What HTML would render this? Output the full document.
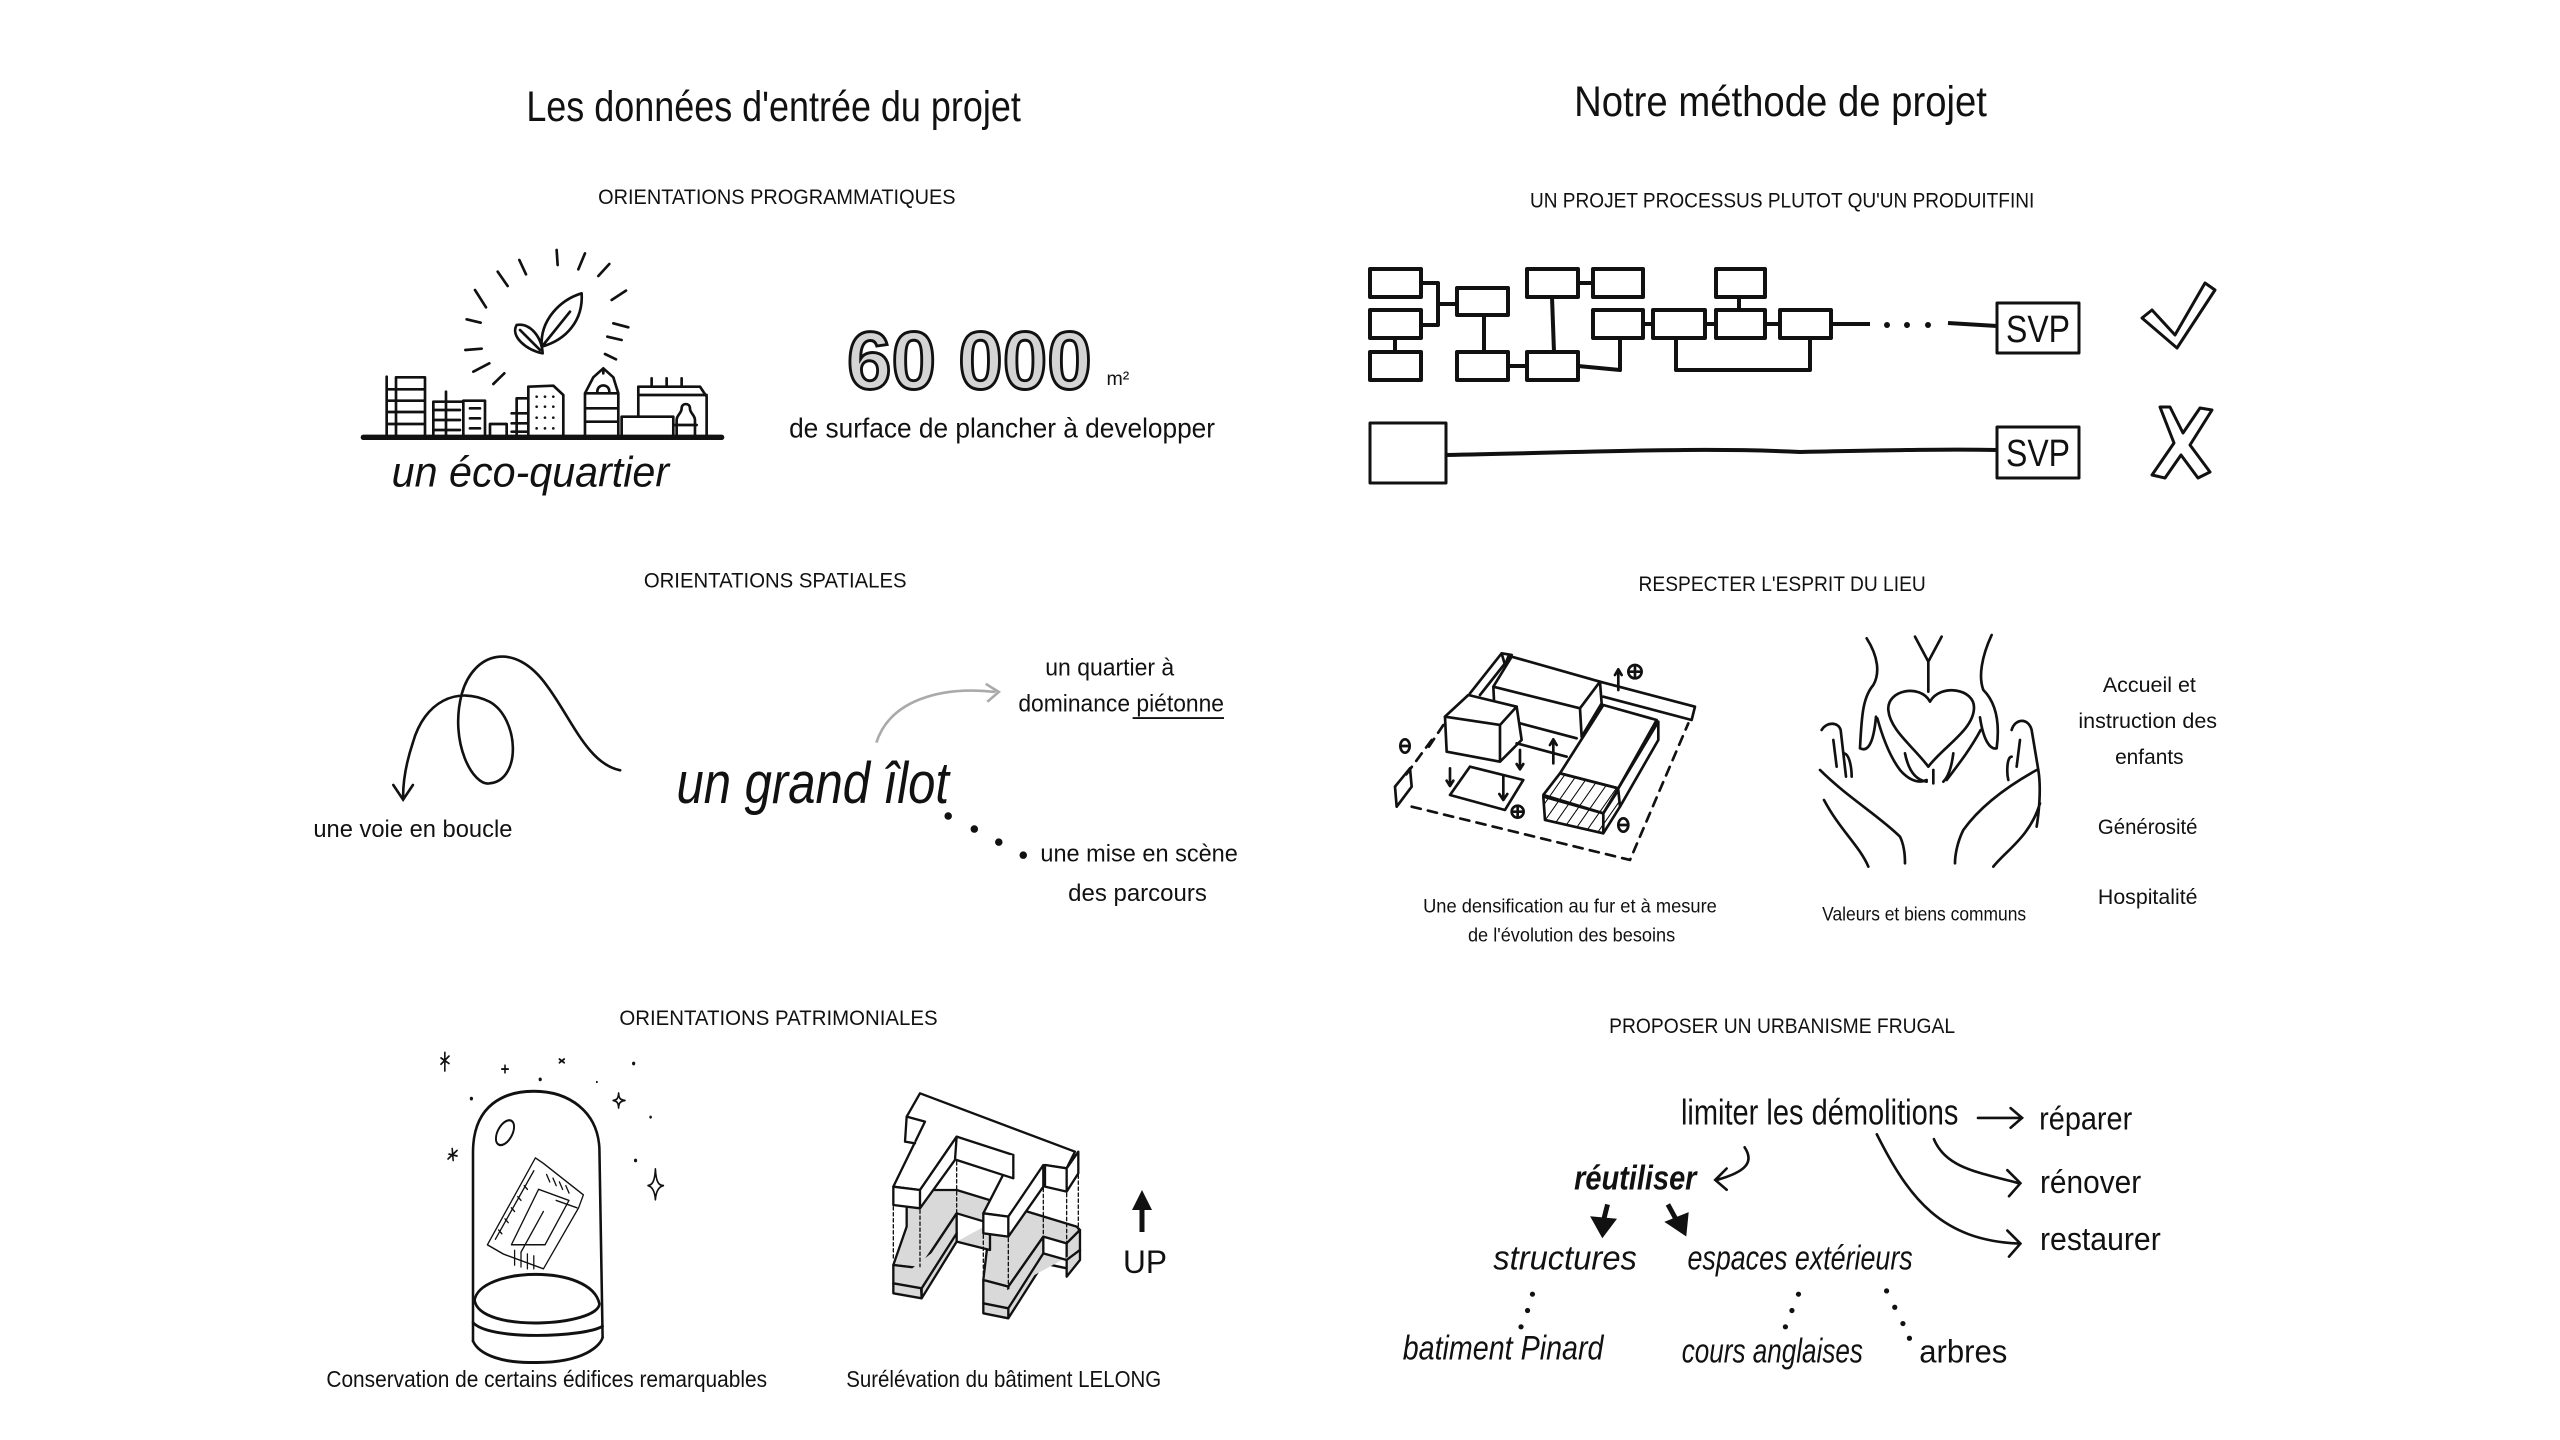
<!DOCTYPE html>
<html><head><meta charset="utf-8"><style>
html,body{margin:0;padding:0;background:#fff;}
svg{display:block}
text{font-family:"Liberation Sans Narrow","Liberation Sans",sans-serif;fill:#111;}
</style></head><body>
<svg width="2560" height="1440" viewBox="0 0 2560 1440" xmlns="http://www.w3.org/2000/svg">
<defs>
<pattern id="hatch" width="30" height="30" patternUnits="userSpaceOnUse" patternTransform="rotate(35)">
<line x1="0" y1="0" x2="0" y2="30" stroke="#000" stroke-width="6"/></pattern>
</defs>
<rect width="2560" height="1440" fill="#fff"/>

<g transform="scale(1.632)">
<text x="474" y="74" font-size="26" text-anchor="middle" textLength="303" lengthAdjust="spacingAndGlyphs">Les données d'entrée du projet</text>
<text x="476" y="125" font-size="13" text-anchor="middle" textLength="219" lengthAdjust="spacingAndGlyphs">ORIENTATIONS PROGRAMMATIQUES</text>
<text x="325" y="298" font-size="26" font-style="italic" text-anchor="middle" textLength="170" lengthAdjust="spacingAndGlyphs">un éco-quartier</text>
<text x="594" y="238" font-size="50" font-weight="bold" text-anchor="middle" textLength="150" lengthAdjust="spacingAndGlyphs" style="fill:#d4d4d4;stroke:#111;stroke-width:1.8">60 000</text>
<text x="678" y="236" font-size="12">m²</text>
<text x="614" y="268" font-size="17" text-anchor="middle" textLength="261" lengthAdjust="spacingAndGlyphs">de surface de plancher à developper</text>

<text x="475" y="360" font-size="13" text-anchor="middle" textLength="161" lengthAdjust="spacingAndGlyphs">ORIENTATIONS SPATIALES</text>
<text x="253" y="513" font-size="15" text-anchor="middle" textLength="122" lengthAdjust="spacingAndGlyphs">une voie en boucle</text>
<text x="498" y="492" font-size="36" font-style="italic" text-anchor="middle" textLength="167" lengthAdjust="spacingAndGlyphs">un grand îlot</text>
<text x="680" y="414" font-size="15" text-anchor="middle" textLength="79" lengthAdjust="spacingAndGlyphs">un quartier à</text>
<text x="687" y="436" font-size="15" text-anchor="middle" textLength="126" lengthAdjust="spacingAndGlyphs">dominance piétonne</text>
<line x1="694" y1="440" x2="750" y2="440" stroke="#111" stroke-width="1.2"/>
<text x="698" y="528" font-size="15" text-anchor="middle" textLength="121" lengthAdjust="spacingAndGlyphs">une mise en scène</text>
<text x="697" y="552" font-size="15" text-anchor="middle" textLength="85" lengthAdjust="spacingAndGlyphs">des parcours</text>

<text x="477" y="628" font-size="13" text-anchor="middle" textLength="195" lengthAdjust="spacingAndGlyphs">ORIENTATIONS PATRIMONIALES</text>
<text x="335" y="850" font-size="14" text-anchor="middle" textLength="270" lengthAdjust="spacingAndGlyphs">Conservation de certains édifices remarquables</text>
<text x="615" y="850" font-size="14" text-anchor="middle" textLength="193" lengthAdjust="spacingAndGlyphs">Surélévation du bâtiment LELONG</text>

<text x="1091" y="71" font-size="26" text-anchor="middle" textLength="253" lengthAdjust="spacingAndGlyphs">Notre méthode de projet</text>
<text x="1092" y="127" font-size="13" text-anchor="middle" textLength="309" lengthAdjust="spacingAndGlyphs">UN PROJET PROCESSUS PLUTOT QU'UN PRODUITFINI</text>

<text x="1092" y="362" font-size="13" text-anchor="middle" textLength="176" lengthAdjust="spacingAndGlyphs">RESPECTER L'ESPRIT DU LIEU</text>
<text x="962" y="559" font-size="12" text-anchor="middle" textLength="180" lengthAdjust="spacingAndGlyphs">Une densification au fur et à mesure</text>
<text x="963" y="577" font-size="12" text-anchor="middle" textLength="127" lengthAdjust="spacingAndGlyphs">de l'évolution des besoins</text>
<text x="1179" y="564" font-size="12" text-anchor="middle" textLength="125" lengthAdjust="spacingAndGlyphs">Valeurs et biens communs</text>
<text x="1317" y="424" font-size="13" text-anchor="middle" textLength="57" lengthAdjust="spacingAndGlyphs">Accueil et</text>
<text x="1316" y="446" font-size="13" text-anchor="middle" textLength="85" lengthAdjust="spacingAndGlyphs">instruction des</text>
<text x="1317" y="468" font-size="13" text-anchor="middle" textLength="42" lengthAdjust="spacingAndGlyphs">enfants</text>
<text x="1316" y="511" font-size="13" text-anchor="middle" textLength="61" lengthAdjust="spacingAndGlyphs">Générosité</text>
<text x="1316" y="554" font-size="13" text-anchor="middle" textLength="61" lengthAdjust="spacingAndGlyphs">Hospitalité</text>

<text x="1092" y="633" font-size="13" text-anchor="middle" textLength="212" lengthAdjust="spacingAndGlyphs">PROPOSER UN URBANISME FRUGAL</text>
<text x="1115" y="689" font-size="22" text-anchor="middle" textLength="170" lengthAdjust="spacingAndGlyphs">limiter les démolitions</text>
<text x="1278" y="692" font-size="20" text-anchor="middle" textLength="57" lengthAdjust="spacingAndGlyphs">réparer</text>
<text x="1281" y="731" font-size="20" text-anchor="middle" textLength="62" lengthAdjust="spacingAndGlyphs">rénover</text>
<text x="1287" y="766" font-size="20" text-anchor="middle" textLength="74" lengthAdjust="spacingAndGlyphs">restaurer</text>
<text x="1002" y="729" font-size="21" font-weight="bold" font-style="italic" text-anchor="middle" textLength="75" lengthAdjust="spacingAndGlyphs">réutiliser</text>
<text x="959" y="778" font-size="21" font-style="italic" text-anchor="middle" textLength="88" lengthAdjust="spacingAndGlyphs">structures</text>
<text x="1103" y="778" font-size="21" font-style="italic" text-anchor="middle" textLength="138" lengthAdjust="spacingAndGlyphs">espaces extérieurs</text>
<text x="921" y="833" font-size="21" font-style="italic" text-anchor="middle" textLength="123" lengthAdjust="spacingAndGlyphs">batiment Pinard</text>
<text x="1086" y="835" font-size="21" font-style="italic" text-anchor="middle" textLength="111" lengthAdjust="spacingAndGlyphs">cours anglaises</text>
<text x="1203" y="835" font-size="20" text-anchor="middle" textLength="54" lengthAdjust="spacingAndGlyphs">arbres</text>

<g fill="none" stroke="#111" stroke-width="1.6" stroke-linecap="round">
<path d="M380,472 C360,468 350,440 335,420 C315,392 290,400 283,425 C275,455 290,482 300,480 C320,478 318,440 300,430 C280,420 260,430 253,455 C248,470 247,480 247,488"/>
<path d="M241,481 L247,490 L253,481"/>
</g>
<path d="M537,455 C545,430 575,420 610,424" fill="none" stroke="#aaa" stroke-width="1.6"/>
<path d="M604,419 L612,424 L605,430" fill="none" stroke="#aaa" stroke-width="1.6"/>
<g fill="#111"><circle cx="581" cy="500" r="2.3"/><circle cx="597" cy="508" r="2.3"/><circle cx="612" cy="516" r="2.3"/><circle cx="627" cy="524" r="2.3"/></g>

<g fill="none" stroke="#111" stroke-width="1.6" stroke-linecap="round">
<path d="M1212,685 H1238 M1232,679 L1239,685 L1232,691"/>
<path d="M1185,698 C1192,715 1210,718 1237,725 M1230,717 L1238,725 L1231,733"/>
<path d="M1150,695 C1170,735 1190,760 1237,762 M1230,754 L1238,762 L1231,770"/>
<path d="M1069,703 C1075,712 1070,718 1052,723 M1058,716 L1051,723 L1058,729"/>
</g>
<g stroke="#111" stroke-width="3" fill="#111">
<path d="M985,738 L982,750"/><path d="M977,747 L982,756 L988,748 Z"/>
<path d="M1022,738 L1028,749"/><path d="M1023,749 L1032,755 L1033,745 Z"/>
</g>
<g fill="#111">
<circle cx="939" cy="793" r="1.6"/><circle cx="936" cy="803" r="1.6"/><circle cx="932" cy="813" r="1.6"/>
<circle cx="1102" cy="793" r="1.6"/><circle cx="1098" cy="803" r="1.6"/><circle cx="1094" cy="813" r="1.6"/>
<circle cx="1156" cy="791" r="1.6"/><circle cx="1161" cy="801" r="1.6"/><circle cx="1166" cy="811" r="1.6"/><circle cx="1170" cy="820" r="1.6"/>
</g>
</g>

<text x="1145" y="1273" font-size="32" text-anchor="middle" textLength="44" lengthAdjust="spacingAndGlyphs">UP</text>
<path d="M1142,1232 V1205" stroke="#111" stroke-width="5"/>
<path d="M1132,1210 L1142,1190 L1152,1210 Z" fill="#111"/>

<g fill="#fff" stroke="#111" stroke-width="4" stroke-linejoin="round">
<path fill="none" d="M1421,283 H1438 V325 H1421 M1438,304 H1457 M1395,338 V352 M1484,315 V352 M1508,366 H1527 M1552,297 L1554,352 M1578,283 H1593 M1578,366 L1620,370 V338 M1643,324 H1653 M1705,324 H1716 M1765,324 H1780 M1739,297 V310 M1676,338 V370 H1810 V338 M1831,324 H1870 M1948,323 L1997,326 M1446,455 C1600,452 1700,447 1800,452 C1900,450 1950,449 1997,450"/>
<rect x="1370" y="269" width="51" height="28"/><rect x="1370" y="310" width="51" height="28"/><rect x="1370" y="352" width="51" height="28"/>
<rect x="1457" y="288" width="51" height="27"/><rect x="1457" y="352" width="51" height="28"/>
<rect x="1527" y="269" width="51" height="28"/><rect x="1527" y="352" width="51" height="28"/>
<rect x="1593" y="269" width="50" height="28"/><rect x="1593" y="310" width="50" height="28"/>
<rect x="1653" y="310" width="52" height="28"/>
<rect x="1716" y="269" width="49" height="28"/><rect x="1716" y="310" width="49" height="28"/>
<rect x="1780" y="310" width="51" height="28"/>
<rect x="1370" y="423" width="76" height="60" stroke-width="3"/>
<rect x="1997" y="303" width="82" height="50" stroke-width="3"/>
<rect x="1997" y="427" width="82" height="51" stroke-width="3"/>
</g>
<g fill="#111"><circle cx="1887" cy="325" r="3"/><circle cx="1907" cy="325" r="3"/><circle cx="1928" cy="325" r="3"/></g>
<text x="2038" y="342" font-size="38" text-anchor="middle" textLength="64" lengthAdjust="spacingAndGlyphs">SVP</text>
<text x="2038" y="466" font-size="38" text-anchor="middle" textLength="64" lengthAdjust="spacingAndGlyphs">SVP</text>
<g fill="#fff" stroke="#111" stroke-width="3" stroke-linejoin="round">
<path d="M2142,318 L2152,310 L2175,335 L2205,283 L2215,290 L2177,348 Z"/>
<path d="M2160,407 L2170,407 L2183,433 L2200,408 L2212,410 L2190,445 L2210,472 L2198,478 L2181,455 L2165,478 L2152,475 L2174,443 Z"/>
</g>

<g transform="translate(360,240) scale(0.3333)" fill="none" stroke="#111" stroke-width="8" stroke-linejoin="round" stroke-linecap="round">
<path d="M10,592 H1085" stroke-width="16"/>
<path d="M80,590 V410 M108,590 V412 H195 V590 M108,448 H195 M108,482 H195 M108,516 H195 M108,552 H195 M80,448 H108 M80,482 H108 M80,516 H108 M80,552 H108"/>
<path d="M258,590 V455 M220,590 V485 H310 V590 M310,482 H375 V590 M225,510 H300 M225,540 H300 M225,570 H300 M330,505 H360 M330,535 H360 M330,565 H360"/>
<path d="M390,590 V552 H440 V590"/>
<path d="M470,590 V475 H505 V440 L580,437 L610,465 V590 M455,520 H505 M455,550 H505 M455,575 H505 M505,475 V590"/>
<g fill="#111" stroke="none"><circle cx="530" cy="470" r="4"/><circle cx="555" cy="470" r="4"/><circle cx="580" cy="470" r="4"/><circle cx="530" cy="500" r="4"/><circle cx="555" cy="500" r="4"/><circle cx="580" cy="500" r="4"/><circle cx="530" cy="533" r="4"/><circle cx="555" cy="533" r="4"/><circle cx="580" cy="533" r="4"/><circle cx="530" cy="565" r="4"/><circle cx="555" cy="565" r="4"/><circle cx="580" cy="565" r="4"/></g>
<path d="M675,590 V460 L700,412 L730,385 L760,412 L775,460 V590 M675,460 H775 M675,505 H775 M675,545 H775 M712,455 C712,430 748,430 748,455 M730,385 V400"/>
<path d="M785,590 V530 H940 V590 M835,530 V440 H1020 L1040,470 V590 M875,440 V415 M920,440 V415 M965,440 V415 M835,465 H1040 M940,555 H1010 M950,590 V540 C950,525 965,520 965,505 C965,488 990,488 990,505 C990,520 1005,525 1005,540 V590"/>
<path d="M545,320 C540,240 600,180 665,160 C670,240 620,300 545,320 Z M552,312 L630,215 M548,340 C500,330 450,290 470,255 C510,248 545,290 548,340 Z M480,270 L540,330"/>
<path d="M590,30 L593,75 M675,40 L655,88 M748,72 L715,108 M798,152 L755,180 M805,262 L760,250 M785,300 L742,290 M768,358 L735,342 M478,60 L498,103 M413,95 L443,138 M345,150 L378,202 M320,238 L362,248 M316,330 L365,326 M340,395 L388,370 M400,432 L433,400"/>
</g>

<g transform="translate(1390,640) scale(0.3333)" fill="none" stroke="#111" stroke-width="8" stroke-linejoin="round" stroke-linecap="round">
<path d="M310,140 L365,50 L630,125 L570,205 Z M310,140 L312,180 M570,205 L575,290 M630,125 L635,190 L575,290 M390,250 L560,295 M380,310 L530,350"/>
<path d="M240,160 L335,40 L365,45 L270,165 M335,40 L345,75 L355,50"/>
<path fill="#fff" d="M165,230 L235,165 L380,200 L330,255 Z"/>
<path d="M165,230 L170,335 L330,365 L330,255 M330,365 L395,300 L380,200"/>
<path d="M630,125 L915,200 L905,240 L640,170"/>
<path d="M180,465 L240,380 L400,420 L345,510 Z"/>
<path fill="#fff" d="M510,400 L640,195 L800,240 L685,445 Z"/>
<path d="M685,445 L805,245 L805,300 L690,500"/>
<path fill="url(#hatch)" d="M460,465 L510,400 L685,445 L640,520 Z"/>
<path fill="url(#hatch)" d="M460,470 L465,540 L640,580 L640,520 Z M640,520 L685,450 L690,500 L640,580"/>
<path d="M15,440 L60,385 L65,440 L20,500 Z"/>
<path stroke-dasharray="28,22" d="M125,300 L40,415 M65,500 L720,660 L895,250 M160,255 L110,330"/>
<path d="M490,370 V300 M480,315 L490,298 L500,315 M390,330 V385 M380,372 L390,388 L400,372 M180,385 V435 M170,422 L180,438 L190,422 M340,410 V475 M328,462 L340,480 L352,462 M685,150 V90 M675,105 L685,88 L695,105"/>
<circle cx="735" cy="95" r="20"/><path d="M720,95 H750 M735,80 V110"/>
<circle cx="383" cy="515" r="18"/><path d="M368,515 H398 M383,500 V530"/>
<ellipse cx="45" cy="318" rx="14" ry="20"/><path d="M32,318 H58"/>
<ellipse cx="700" cy="555" rx="15" ry="20"/><path d="M686,555 H714"/>
</g>

<g transform="translate(1820,630) scale(0.3333)" fill="none" stroke="#111" stroke-width="8" stroke-linejoin="round" stroke-linecap="round">
<path d="M330,215 C300,160 200,180 205,240 C210,300 280,350 325,410 C370,350 460,300 462,235 C465,175 360,160 330,215 Z"/>
<path d="M285,20 L325,95 L365,20 M325,95 V185"/>
<path d="M140,25 C175,80 180,130 160,165 C130,200 125,250 120,355 C140,365 160,350 168,260 M172,265 C190,330 210,380 240,420 C270,455 300,460 320,450"/>
<path d="M515,15 C485,80 475,140 490,180 C530,220 540,280 530,355 C510,360 490,330 480,262 M482,300 C450,360 410,410 380,450"/>
<path d="M255,370 C265,420 285,450 320,455 M340,420 V460 M400,370 C395,410 385,440 370,455"/>
<path d="M5,300 C20,275 55,275 62,300 L78,440 M70,370 C90,370 95,420 95,440 M0,420 C80,500 180,560 240,620 C255,650 255,690 255,700 M12,510 C60,600 120,650 145,710 M40,330 L50,410"/>
<path d="M575,300 C585,265 625,262 635,300 L655,420 C665,480 655,560 650,590 M575,380 C560,380 560,430 565,450 M650,420 C560,470 480,530 430,600 C410,640 405,680 405,700 M660,520 C630,620 560,660 520,710 M600,330 L590,410"/>
</g>

<g transform="translate(425,1045) scale(0.32,0.37)" fill="none" stroke="#111" stroke-width="8" stroke-linejoin="round" stroke-linecap="round">
<path d="M150,800 L150,290 C150,160 250,125 340,125 C450,125 540,180 545,280 L555,790"/>
<path fill="#fff" d="M155,690 C170,600 520,590 545,700 C540,760 170,780 155,690 Z"/>
<path d="M150,750 C200,800 500,790 555,760 M150,800 C170,840 250,860 340,858 C500,860 550,810 555,790"/>
<ellipse cx="250" cy="237" rx="22" ry="38" transform="rotate(35 250 237)" stroke-width="6"/>
<g stroke-width="4"><path d="M195,540 L345,305 L370,320 L495,405 L480,440 L370,605 L245,565 Z"/><path d="M270,540 L355,390 L450,420 L375,540 Z"/><path d="M220,525 L340,340 M300,560 L370,450 M410,420 L475,440"/>
<path d="M230,500 L240,510 M250,470 L260,480 M270,440 L280,450 M290,410 L300,420 M310,380 L320,390 M280,555 V595 M300,560 V600 M320,565 V605 M340,570 V605 M380,350 L390,370 M400,360 L410,380 M420,370 L430,390 M440,380 L450,400"/></g>
<g stroke-width="5"><path d="M62,20 V70 M50,35 L75,50 M75,30 L50,52 M250,55 V75 M240,65 H260 M420,38 L435,48 M435,38 L420,48 M75,295 L100,300 M85,280 L88,312 M72,308 L100,285"/>
<path d="M720,335 C722,370 730,380 745,380 C730,383 722,395 720,418 C718,395 710,383 697,380 C710,378 718,370 720,335 Z"/>
<path d="M605,130 C606,145 610,148 625,150 C610,152 606,156 605,170 C604,156 600,152 588,150 C600,148 604,145 605,130 Z"/></g>
<g fill="#111" stroke="none"><circle cx="145" cy="145" r="5"/><circle cx="360" cy="93" r="5"/><circle cx="652" cy="50" r="5"/><circle cx="705" cy="195" r="4"/><circle cx="658" cy="312" r="5"/><circle cx="537" cy="100" r="3"/></g>
</g>

<g transform="translate(880,1080) scale(0.3333)" stroke="#111" stroke-width="7" stroke-linejoin="round" stroke-linecap="round">
<g fill="#d9d9d9">
<path d="M40,555 L120,565 L230,400 L330,430 L310,600 L385,620 L490,470 L560,490 L600,450 L590,440 L230,330 L120,330 L80,380 L80,440 Z"/>
<path d="M40,555 V640 L125,655 V565 Z M125,655 L230,485 V400 L120,565 Z M310,600 V700 L385,715 V620 Z M385,715 L490,550 V470 L385,620 Z M560,490 V590 L600,540 V450 Z M230,485 L330,510 V430 M490,550 L560,565"/>
<path d="M40,610 L125,625 L230,460 M310,670 L385,685 L490,520 L560,540 L600,510"/>
</g>
<g fill="#fff">
<path d="M40,320 L135,125 L80,110 L120,40 L585,215 L560,265 L495,255 L385,410 L310,400 L400,225 L230,170 L120,330 Z"/>
<path d="M40,320 V375 L120,385 V330 Z M120,385 L225,240 L230,170 L120,330 Z M310,400 V460 L385,470 V410 Z M385,470 L490,320 V255 L385,410 Z M495,255 V320 L560,335 V265 Z M560,335 L595,280 V215 L560,265 Z M80,110 L75,185 L105,190"/>
<path d="M230,240 L400,295 L400,225"/>
</g>
<path fill="none" stroke-width="4" stroke-dasharray="10,8" d="M40,380 V540 M120,390 V560 M230,245 V400 M490,325 V470 M560,340 V490 M595,285 V450 M310,465 V600 M385,475 V620"/>
</g>
</svg>
</body></html>
